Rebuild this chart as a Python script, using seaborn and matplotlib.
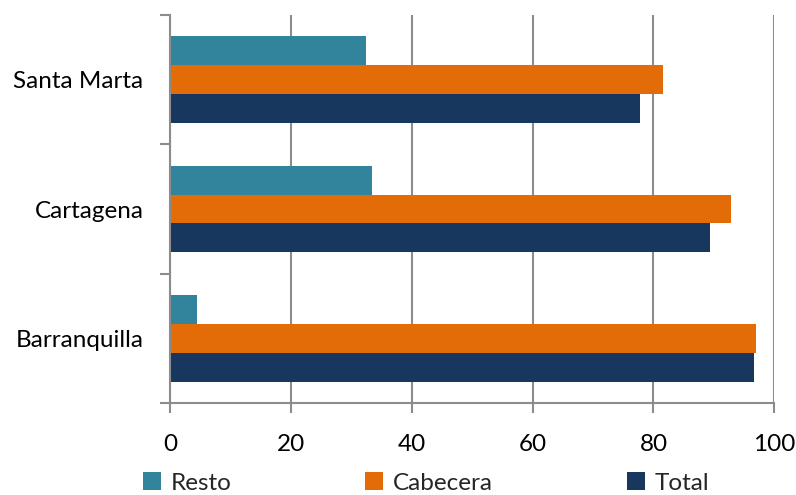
import matplotlib
matplotlib.use("Agg")
import matplotlib.pyplot as plt
import seaborn as sns
import pandas as pd
from matplotlib.patches import Patch

cities = ["Santa Marta", "Cartagena", "Barranquilla"]
series = ["Resto", "Cabecera", "Total"]
resto = [32.5, 33.5, 4.5]
cabecera = [81.5, 92.8, 96.9]
total = [77.8, 89.4, 96.6]
xticks = [0, 20, 40, 60, 80, 100]
colors = ["#31849B", "#E36C09", "#17375E"]

rows = []
for s, vals in zip(series, [resto, cabecera, total]):
    for c, v in zip(cities, vals):
        rows.append({"city": c, "series": s, "value": v})
df = pd.DataFrame(rows)

sns.set_style("white")
plt.rcParams["font.family"] = ["Lato", "DejaVu Sans"]

fig = plt.figure(figsize=(7.96, 4.95), dpi=100)
ax = fig.add_axes([170 / 796, 1 - 403 / 495, (774.3 - 170) / 796, (403 - 15) / 495])

sns.barplot(data=df, y="city", x="value", hue="series", order=cities,
            hue_order=series, palette=colors, orient="h", width=0.67,
            saturation=1, ax=ax, legend=False, edgecolor="none")

ax.set_xlim(0, 100)
ax.set_xticks(xticks)
ax.set_xticklabels([str(t) for t in xticks])
ax.set_ylim(2.5, -0.5)
ax.set_yticks([-0.5, 0.5, 1.5, 2.5], minor=False)
ax.set_yticklabels([])
ax.set_yticks([0, 1, 2], minor=True)
ax.set_yticklabels(cities, minor=True)
ax.set_xlabel("")
ax.set_ylabel("")

grid_c = "#8C8C8C"
ax.grid(axis="x", color=grid_c, linewidth=1.5)
ax.set_axisbelow(True)
for s in ["top", "right"]:
    ax.spines[s].set_visible(False)
for s in ["left", "bottom"]:
    ax.spines[s].set_color(grid_c)
    ax.spines[s].set_linewidth(1.5)

ax.tick_params(axis="y", which="major", length=7, width=1.5, color=grid_c, left=True)
ax.tick_params(axis="y", which="minor", length=0, pad=19, labelsize=17.5, labelcolor="black")
ax.tick_params(axis="x", length=7, width=1.5, color=grid_c, bottom=True, pad=15,
               labelsize=17.5, labelcolor="black")

positions = [143, 365, 627]
for s, col, px in zip(series, colors, positions):
    leg = fig.legend(handles=[Patch(facecolor=col, edgecolor="none", label=s)],
                     loc="center left", bbox_to_anchor=(px / 796, 1 - 483 / 495),
                     frameon=False, fontsize=17.5, handlelength=0.75, handleheight=0.75,
                     handletextpad=0.4, borderpad=0, borderaxespad=0)

fig.savefig("out.png", dpi=100)
